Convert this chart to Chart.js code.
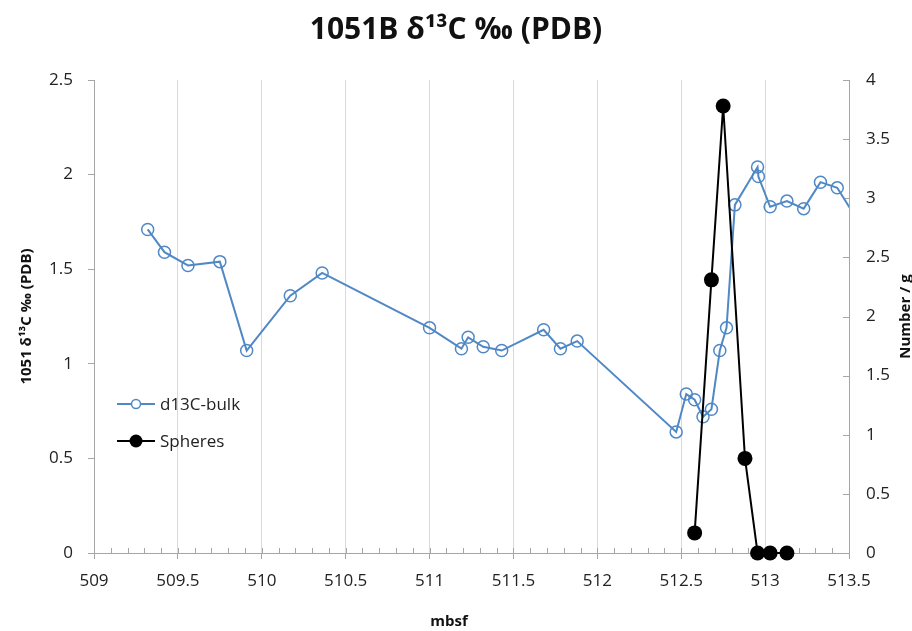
<!DOCTYPE html>
<html lang="en">
<head>
  <meta charset="UTF-8" />
  <title>1051B d13C</title>
  <style>
    * { box-sizing: border-box; margin: 0; padding: 0; }
    html, body { width: 912px; height: 631px; background: #fff; overflow: hidden; }
    canvas { display: block; }
  </style>
</head>
<body>
  <canvas id="chart" width="912" height="631"></canvas>

  <script src="https://cdn.jsdelivr.net/npm/chart.js"></script>
  <script>
    // depth (mbsf) and bulk carbon isotope values
    const bulkDepth = [509.32, 509.42, 509.56, 509.75, 509.91, 510.17, 510.36, 511.0, 511.19, 511.23,
                       511.32, 511.43, 511.68, 511.78, 511.88, 512.47, 512.53, 512.58, 512.63, 512.68,
                       512.73, 512.77, 512.82, 512.955, 512.96, 513.03, 513.13, 513.23, 513.33, 513.43, 513.55];
    const bulkD13C = [1.71, 1.59, 1.52, 1.54, 1.07, 1.36, 1.48, 1.19, 1.08, 1.14,
                      1.09, 1.07, 1.18, 1.08, 1.12, 0.64, 0.84, 0.81, 0.72, 0.76,
                      1.07, 1.19, 1.84, 2.04, 1.99, 1.83, 1.86, 1.82, 1.96, 1.93, 1.76];

    // spherule counts per gram
    const sphereDepth = [512.58, 512.68, 512.75, 512.88, 512.955, 513.03, 513.13];
    const sphereCount = [0.17, 2.31, 3.78, 0.80, 0, 0, 0];

    const xTicks = [509, 509.5, 510, 510.5, 511, 511.5, 512, 512.5, 513, 513.5];
    const leftTicks = [0, 0.5, 1, 1.5, 2, 2.5];
    const rightTicks = [0, 0.5, 1, 1.5, 2, 2.5, 3, 3.5, 4];

    const BLUE = '#5088c6';
    const AXIS = '#a6a6a6';
    const GRID = '#d9d9d9';
    const FONT = "'Open Sans', sans-serif";

    const toPoints = (xs, ys) => xs.map((x, i) => ({ x: x, y: ys[i] }));
    const plain = v => String(v);

    // axis extras: minor ticks on x, inward ticks on the right axis, the two free-standing axis titles
    const axisExtras = {
      id: 'axisExtras',
      beforeDatasetsDraw(chart) {
        const { ctx, chartArea, scales } = chart;
        ctx.save();
        ctx.strokeStyle = AXIS;
        ctx.lineWidth = 1;
        ctx.beginPath();
        for (let i = 0; i <= 45; i++) {
          const px = Math.round(scales.x.getPixelForValue(509 + i * 0.1)) + 0.5;
          ctx.moveTo(px, chartArea.bottom);
          ctx.lineTo(px, chartArea.bottom - 5);
        }
        rightTicks.forEach(v => {
          const py = Math.round(scales.y2.getPixelForValue(v)) + 0.5;
          ctx.moveTo(chartArea.right, py);
          ctx.lineTo(chartArea.right - 6, py);
        });
        ctx.stroke();
        ctx.restore();
      },
      afterDraw(chart) {
        const { ctx, chartArea } = chart;
        ctx.save();
        ctx.fillStyle = '#111';
        ctx.font = 'bold 15px ' + FONT;
        ctx.textAlign = 'center';
        ctx.textBaseline = 'middle';
        ctx.fillText('mbsf', 449, 622);
        ctx.translate(906, (chartArea.top + chartArea.bottom) / 2);
        ctx.rotate(-Math.PI / 2);
        ctx.fillText('Number / g', 0, 0);
        ctx.restore();
      }
    };

    // legend sitting inside the plot, lower left
    const innerLegend = {
      id: 'innerLegend',
      afterDraw(chart) {
        const { ctx, chartArea } = chart;
        const x0 = chartArea.left + 23;
        const rows = [
          { y: chartArea.top + 324, label: 'd13C-bulk', color: BLUE, fill: false, r: 4.5 },
          { y: chartArea.top + 361, label: 'Spheres', color: '#000', fill: true, r: 6.5 }
        ];
        ctx.save();
        ctx.font = '17px ' + FONT;
        ctx.textBaseline = 'middle';
        rows.forEach(row => {
          ctx.strokeStyle = row.color;
          ctx.lineWidth = 2;
          ctx.beginPath();
          ctx.moveTo(x0, row.y);
          ctx.lineTo(x0 + 38, row.y);
          ctx.stroke();
          ctx.beginPath();
          ctx.arc(x0 + 19, row.y, row.r, 0, Math.PI * 2);
          if (row.fill) {
            ctx.fillStyle = row.color;
            ctx.fill();
          } else {
            ctx.fillStyle = '#fff';
            ctx.fill();
            ctx.lineWidth = 1.5;
            ctx.stroke();
          }
          ctx.fillStyle = '#222';
          ctx.fillText(row.label, x0 + 43, row.y + 1);
        });
        ctx.restore();
      }
    };

    new Chart(document.getElementById('chart'), {
      type: 'scatter',
      data: {
        datasets: [
          {
            label: 'd13C-bulk',
            data: toPoints(bulkDepth, bulkD13C),
            yAxisID: 'y',
            showLine: true,
            borderColor: BLUE,
            borderWidth: 2,
            pointRadius: 6,
            pointBorderWidth: 1.5,
            pointBackgroundColor: 'rgba(255,255,255,0)',
            pointBorderColor: BLUE,
            clip: 0,
            order: 1
          },
          {
            label: 'Spheres',
            data: toPoints(sphereDepth, sphereCount),
            yAxisID: 'y2',
            showLine: true,
            borderColor: '#000',
            borderWidth: 2,
            pointRadius: 7.5,
            pointBorderWidth: 0,
            pointBackgroundColor: '#000',
            clip: false,
            order: 0
          }
        ]
      },
      options: {
        responsive: false,
        animation: false,
        layout: { padding: 0 },
        plugins: {
          legend: { display: false },
          tooltip: { enabled: false },
          title: {
            display: true,
            text: '1051B δ¹³C ‰ (PDB)',
            color: '#111',
            font: { family: FONT, size: 30, weight: 'bold', lineHeight: 1.2 },
            padding: { top: 12, bottom: 32 }
          }
        },
        scales: {
          x: {
            type: 'linear',
            min: 509,
            max: 513.5,
            afterBuildTicks: s => { s.ticks = xTicks.map(v => ({ value: v })); },
            afterFit: s => { s.height = 78; },
            ticks: { color: '#222', font: { family: FONT, size: 17 }, padding: 12, maxRotation: 0, autoSkip: false, callback: plain },
            grid: { color: GRID, tickColor: AXIS, tickLength: 6 },
            border: { color: AXIS }
          },
          y: {
            position: 'left',
            min: 0,
            max: 2.5,
            afterBuildTicks: s => { s.ticks = leftTicks.map(v => ({ value: v })); },
            afterFit: s => { s.width = 94; },
            ticks: { color: '#222', font: { family: FONT, size: 17 }, padding: 15, autoSkip: false, callback: plain },
            grid: { drawOnChartArea: false, tickColor: AXIS, tickLength: 6 },
            border: { color: AXIS },
            title: { display: true, text: '1051 δ¹³C ‰ (PDB)', color: '#111', font: { family: FONT, size: 15, weight: 'bold' }, padding: { top: 18, bottom: 0 } }
          },
          y2: {
            position: 'right',
            min: 0,
            max: 4,
            afterBuildTicks: s => { s.ticks = rightTicks.map(v => ({ value: v })); },
            afterFit: s => { s.width = 63; },
            ticks: { color: '#222', font: { family: FONT, size: 17 }, padding: 17, autoSkip: false, callback: plain },
            grid: { drawOnChartArea: false, drawTicks: false, tickLength: 0 },
            border: { color: AXIS }
          }
        }
      },
      plugins: [axisExtras, innerLegend]
    });
  </script>
</body>
</html>
